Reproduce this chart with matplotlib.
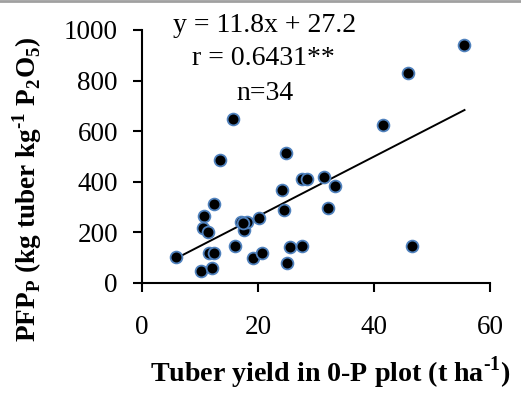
import matplotlib
matplotlib.use('Agg')
import matplotlib.pyplot as plt
import numpy as np
from matplotlib.lines import Line2D

plt.rcParams.update({
    'font.family': 'serif',
    'font.serif': ['Liberation Serif', 'DejaVu Serif'],
    'mathtext.fontset': 'custom',
    'mathtext.rm': 'Liberation Serif',
    'mathtext.bf': 'Liberation Serif:bold',
    'font.size': 19,
})

# Tuber yield in 0-P plot (t/ha) and partial factor productivity of P
tuber_yield = [5.9, 10.2, 12.0, 10.6, 10.4, 11.4, 11.5, 12.3, 12.4, 13.5,
               15.7, 16.0, 17.1, 17.5, 18.1, 17.3, 19.1, 20.1, 20.7, 24.2,
               24.4, 24.8, 24.9, 25.5, 27.6, 27.6, 28.4, 31.4, 32.0, 33.2,
               41.6, 45.9, 46.5, 55.6]
pfp_p = [103, 48, 57, 264, 215, 200, 116, 116, 311, 484,
         646, 145, 240, 208, 240, 238, 96, 257, 119, 367,
         288, 512, 79, 140, 147, 410, 410, 420, 297, 383,
         624, 831, 147, 941]

slope, intercept = 11.8, 27.2
x_ticks = [0, 20, 40, 60]
y_ticks = [0, 200, 400, 600, 800, 1000]

fig = plt.figure(figsize=(5.21, 3.93), dpi=100)
ax = fig.add_axes([0.273, 0.2807, 0.6675, 0.643])

ax.scatter(tuber_yield, pfp_p, s=72, c='black', edgecolors='#4f81bd',
           linewidths=1.3, zorder=3)

x_fit = np.array([min(tuber_yield), max(tuber_yield)])
ax.plot(x_fit, slope * x_fit + intercept, color='black', lw=1.4, zorder=2)

ax.set_xlim(0, 60)
ax.set_ylim(0, 1000)
ax.set_xticks(x_ticks)
ax.set_yticks(y_ticks)
for side in ['top', 'right']:
    ax.spines[side].set_visible(False)
for side in ['left', 'bottom']:
    ax.spines[side].set_linewidth(1.5)
ax.tick_params(axis='both', direction='out', length=6.5, width=1.5, labelsize=19.5)
ax.tick_params(axis='y', pad=11)
ax.tick_params(axis='x', pad=17)

ax.set_xlabel('Tuber yield in 0-P plot (t ha$^{\\mathbf{\u20101}}$)', fontweight='bold',
              fontsize=20.2)
ax.xaxis.set_label_coords(0.54, -0.284)
ax.set_ylabel('PFP$_{\\mathbf{P}}$ (kg tuber kg$^{\\mathbf{\u20101}}$ P$_{\\mathbf{2}}$O$_{\\mathbf{5}}$)',
              fontweight='bold', fontsize=19.6)
ax.yaxis.set_label_coords(-0.283, 0.37)

ax.text(0.353, 0.993, 'y = 11.8x + 27.2', transform=ax.transAxes,
        ha='center', va='baseline', fontsize=20)
ax.text(0.347, 0.861, 'r = 0.6431**', transform=ax.transAxes,
        ha='center', va='baseline', fontsize=20)
ax.text(0.353, 0.723, 'n=34', transform=ax.transAxes,
        ha='center', va='baseline', fontsize=20)

fig.add_artist(Line2D([0, 1], [0.997, 0.997], transform=fig.transFigure,
                      color='#a0a0a0', lw=2))

fig.savefig('out.png', dpi=100)
